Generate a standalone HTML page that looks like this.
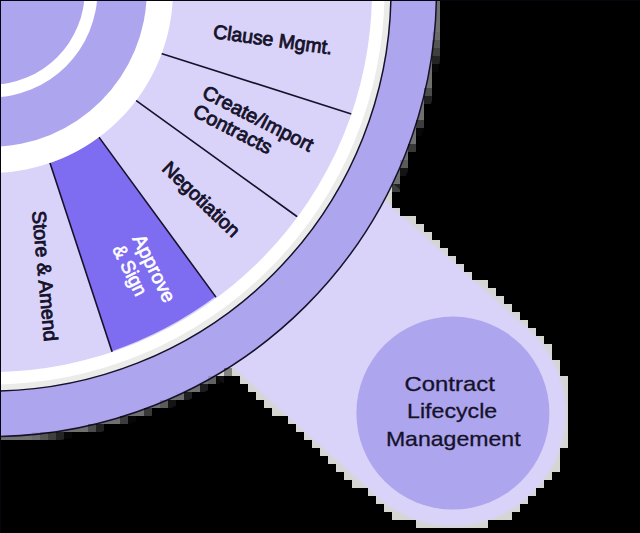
<!DOCTYPE html>
<html><head><meta charset="utf-8"><style>
html,body{margin:0;padding:0;background:#000;}
svg{display:block;}
text{font-family:"Liberation Sans",sans-serif;}
</style></head><body>
<svg width="640" height="533" viewBox="0 0 640 533">
<defs><filter id="bl" x="-10%" y="-10%" width="120%" height="120%"><feGaussianBlur stdDeviation="1.5"/></filter></defs>
<rect width="640" height="533" fill="#000"/>
<circle cx="-9.5" cy="-9.5" r="455" fill="#707070"/>
<path d="M15.36,-147.42 L536.38,320.06 A125,125 0 0 1 369.42,506.14 L-151.60,38.66 Z" fill="#d5d5d1" stroke="#d5d5d1" stroke-width="12"/>
<path d="M7.35,-138.49 L528.37,328.99 A113,113 0 0 1 377.43,497.21 L-143.58,29.72 Z" fill="#d9d3fa" filter="url(#bl)"/>
<circle cx="-9.5" cy="-9.5" r="446" fill="#ada5ed" stroke="#16122a" stroke-width="1.5"/>
<circle cx="-9.5" cy="-9.5" r="400.5" fill="#ebebea" stroke="#16122a" stroke-width="1.5"/>
<circle cx="-9.5" cy="-9.5" r="394" fill="#ffffff"/>
<circle cx="-9.5" cy="-9.5" r="381.5" fill="#d9d3fa"/>
<path d="M98.75,136.9 L215.6,296.6 A381.5,381.5 0 0 1 111.9,351.25 L50,163.1 A182.5,182.5 0 0 0 98.75,136.9 Z" fill="#7e6cf1"/>
<g stroke="#16122a" stroke-width="1.6" stroke-linecap="round"><line x1="161.25" y1="53.4" x2="350.6" y2="113.75"/><line x1="135.9" y1="100.3" x2="296.6" y2="216.25"/><line x1="98.75" y1="136.9" x2="215.6" y2="296.6"/><line x1="50" y1="163.1" x2="111.9" y2="351.25"/></g>
<circle cx="-9.5" cy="-9.5" r="182.5" fill="#ffffff"/>
<circle cx="-9.5" cy="-9.5" r="156.3" fill="#ada5ed"/>
<circle cx="-9.5" cy="-9.5" r="107" fill="#ffffff"/>
<circle cx="-9.5" cy="-9.5" r="94.3" fill="#ada5ed"/>
<text x="212.6" y="37.9" transform="rotate(8 212.6 37.9)" font-size="19.5" textLength="120" lengthAdjust="spacingAndGlyphs" fill="#16122a" stroke="#16122a" stroke-width="0.85">Clause Mgmt.</text><text x="201.1" y="96.8" transform="rotate(27.1 201.1 96.8)" font-size="19.5" textLength="121.5" lengthAdjust="spacingAndGlyphs" fill="#16122a" stroke="#16122a" stroke-width="0.85">Create/Import</text><text x="191.7" y="115.6" transform="rotate(27.1 191.7 115.6)" font-size="19.5" textLength="85.6" lengthAdjust="spacingAndGlyphs" fill="#16122a" stroke="#16122a" stroke-width="0.85">Contracts</text><text x="161.0" y="169.8" transform="rotate(43.8 161.0 169.8)" font-size="19.5" textLength="99" lengthAdjust="spacingAndGlyphs" fill="#16122a" stroke="#16122a" stroke-width="0.85">Negotiation</text><text x="131.9" y="238.6" transform="rotate(63.5 131.9 238.6)" font-size="19.5" textLength="73" lengthAdjust="spacingAndGlyphs" fill="#ffffff" stroke="#ffffff" stroke-width="0.65">Approve</text><text x="112.05" y="249.0" transform="rotate(63.5 112.05 249.0)" font-size="19.5" textLength="54" lengthAdjust="spacingAndGlyphs" fill="#ffffff" stroke="#ffffff" stroke-width="0.65">&amp; Sign</text><text x="32.0" y="211.5" transform="rotate(84.6 32.0 211.5)" font-size="19.5" textLength="131" lengthAdjust="spacingAndGlyphs" fill="#16122a" stroke="#16122a" stroke-width="0.85">Store &amp; Amend</text>
<circle cx="452.9" cy="413.1" r="96.5" fill="#ada5ed"/>
<text x="404.6" y="391.25" font-size="21" textLength="90.2" lengthAdjust="spacingAndGlyphs" fill="#16122a" stroke="#16122a" stroke-width="0.3">Contract</text><text x="407" y="418.4" font-size="21" textLength="90.2" lengthAdjust="spacingAndGlyphs" fill="#16122a" stroke="#16122a" stroke-width="0.3">Lifecycle</text><text x="385.9" y="445.9" font-size="21" textLength="134.7" lengthAdjust="spacingAndGlyphs" fill="#16122a" stroke="#16122a" stroke-width="0.3">Management</text>
<g fill="#000"><rect x="440" y="0" width="200" height="8"/><rect x="440" y="8" width="200" height="8"/><rect x="440" y="16" width="200" height="8"/><rect x="440" y="24" width="200" height="8"/><rect x="432" y="32" width="8" height="8" fill-opacity="0.06"/><rect x="440" y="32" width="200" height="8"/><rect x="432" y="40" width="8" height="8" fill-opacity="0.24"/><rect x="440" y="40" width="200" height="8"/><rect x="432" y="48" width="8" height="8" fill-opacity="0.44"/><rect x="440" y="48" width="200" height="8"/><rect x="432" y="56" width="8" height="8" fill-opacity="0.68"/><rect x="440" y="56" width="200" height="8"/><rect x="432" y="64" width="8" height="8" fill-opacity="0.94"/><rect x="440" y="64" width="200" height="8"/><rect x="432" y="72" width="208" height="8"/><rect x="432" y="80" width="208" height="8"/><rect x="424" y="88" width="8" height="8" fill-opacity="0.32"/><rect x="432" y="88" width="208" height="8"/><rect x="424" y="96" width="8" height="8" fill-opacity="0.70"/><rect x="432" y="96" width="208" height="8"/><rect x="424" y="104" width="216" height="8"/><rect x="424" y="112" width="216" height="8"/><rect x="416" y="120" width="8" height="8" fill-opacity="0.45"/><rect x="424" y="120" width="216" height="8"/><rect x="416" y="128" width="8" height="8" fill-opacity="0.94"/><rect x="424" y="128" width="216" height="8"/><rect x="416" y="136" width="224" height="8"/><rect x="408" y="144" width="8" height="8" fill-opacity="0.49"/><rect x="416" y="144" width="224" height="8"/><rect x="408" y="152" width="232" height="8"/><rect x="400" y="160" width="8" height="8" fill-opacity="0.18"/><rect x="408" y="160" width="232" height="8"/><rect x="400" y="168" width="8" height="8" fill-opacity="0.82"/><rect x="408" y="168" width="232" height="8"/><rect x="392" y="176" width="8" height="8" fill-opacity="0.02"/><rect x="400" y="176" width="240" height="8"/><rect x="392" y="184" width="8" height="8" fill-opacity="0.71"/><rect x="400" y="184" width="240" height="8"/><rect x="392" y="192" width="248" height="8"/><rect x="392" y="200" width="248" height="8"/><rect x="400" y="208" width="240" height="8"/><rect x="416" y="216" width="224" height="8"/><rect x="424" y="224" width="216" height="8"/><rect x="432" y="232" width="208" height="8"/><rect x="440" y="240" width="200" height="8"/><rect x="448" y="248" width="192" height="8"/><rect x="456" y="256" width="184" height="8"/><rect x="464" y="264" width="176" height="8"/><rect x="472" y="272" width="168" height="8"/><rect x="488" y="280" width="152" height="8"/><rect x="496" y="288" width="144" height="8"/><rect x="504" y="296" width="136" height="8"/><rect x="512" y="304" width="128" height="8"/><rect x="520" y="312" width="120" height="8"/><rect x="528" y="320" width="112" height="8"/><rect x="536" y="328" width="104" height="8"/><rect x="544" y="336" width="96" height="8"/><rect x="552" y="344" width="88" height="8"/><rect x="552" y="352" width="88" height="8"/><rect x="560" y="360" width="80" height="8"/><rect x="224" y="368" width="8" height="8" fill-opacity="0.38"/><rect x="560" y="368" width="80" height="8"/><rect x="208" y="376" width="8" height="8" fill-opacity="0.12"/><rect x="216" y="376" width="8" height="8" fill-opacity="0.92"/><rect x="224" y="376" width="16" height="8"/><rect x="568" y="376" width="72" height="8"/><rect x="200" y="384" width="8" height="8" fill-opacity="0.74"/><rect x="208" y="384" width="40" height="8"/><rect x="568" y="384" width="72" height="8"/><rect x="176" y="392" width="8" height="8" fill-opacity="0.02"/><rect x="184" y="392" width="8" height="8" fill-opacity="0.71"/><rect x="192" y="392" width="64" height="8"/><rect x="568" y="392" width="72" height="8"/><rect x="160" y="400" width="8" height="8" fill-opacity="0.18"/><rect x="168" y="400" width="8" height="8" fill-opacity="0.82"/><rect x="176" y="400" width="88" height="8"/><rect x="568" y="400" width="72" height="8"/><rect x="144" y="408" width="8" height="8" fill-opacity="0.49"/><rect x="152" y="408" width="120" height="8"/><rect x="568" y="408" width="72" height="8"/><rect x="120" y="416" width="8" height="8" fill-opacity="0.45"/><rect x="128" y="416" width="8" height="8" fill-opacity="0.94"/><rect x="136" y="416" width="152" height="8"/><rect x="568" y="416" width="72" height="8"/><rect x="88" y="424" width="8" height="8" fill-opacity="0.32"/><rect x="96" y="424" width="8" height="8" fill-opacity="0.70"/><rect x="104" y="424" width="192" height="8"/><rect x="568" y="424" width="72" height="8"/><rect x="32" y="432" width="8" height="8" fill-opacity="0.06"/><rect x="40" y="432" width="8" height="8" fill-opacity="0.24"/><rect x="48" y="432" width="8" height="8" fill-opacity="0.44"/><rect x="56" y="432" width="8" height="8" fill-opacity="0.68"/><rect x="64" y="432" width="8" height="8" fill-opacity="0.94"/><rect x="72" y="432" width="232" height="8"/><rect x="568" y="432" width="72" height="8"/><rect x="0" y="440" width="312" height="8"/><rect x="568" y="440" width="72" height="8"/><rect x="0" y="448" width="320" height="8"/><rect x="560" y="448" width="80" height="8"/><rect x="0" y="456" width="328" height="8"/><rect x="560" y="456" width="80" height="8"/><rect x="0" y="464" width="336" height="8"/><rect x="560" y="464" width="80" height="8"/><rect x="0" y="472" width="344" height="8"/><rect x="552" y="472" width="88" height="8"/><rect x="0" y="480" width="352" height="8"/><rect x="544" y="480" width="96" height="8"/><rect x="0" y="488" width="368" height="8"/><rect x="536" y="488" width="104" height="8"/><rect x="0" y="496" width="376" height="8"/><rect x="528" y="496" width="112" height="8"/><rect x="0" y="504" width="384" height="8"/><rect x="520" y="504" width="120" height="8"/><rect x="0" y="512" width="392" height="8"/><rect x="512" y="512" width="128" height="8"/><rect x="0" y="520" width="416" height="8"/><rect x="488" y="520" width="152" height="8"/><rect x="0" y="528" width="640" height="8"/></g>
<rect x="0" y="0" width="640" height="1" fill="#06050e"/>
<rect x="0" y="0" width="1" height="533" fill="#06050e"/>
</svg>
</body></html>
